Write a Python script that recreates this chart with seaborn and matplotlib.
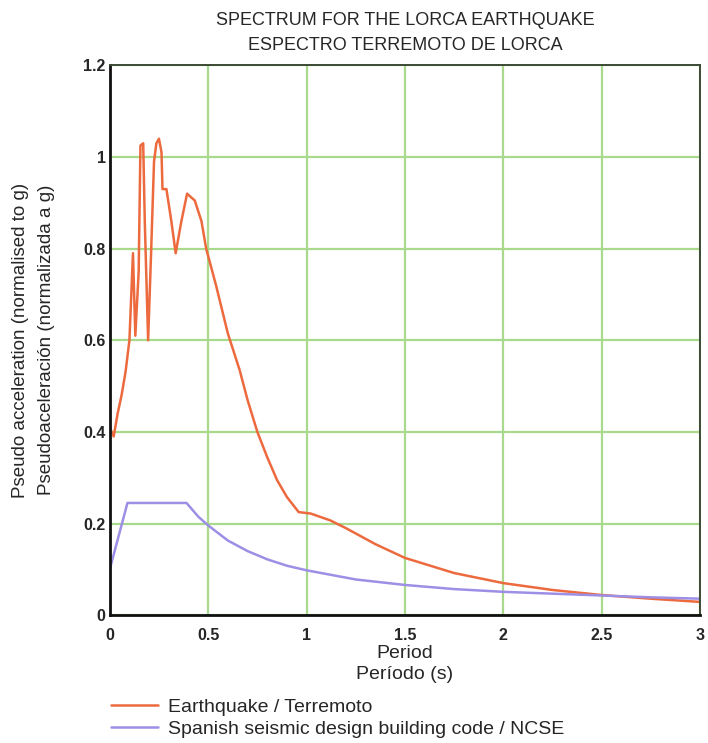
import matplotlib
matplotlib.use("Agg")
import matplotlib.pyplot as plt
import numpy as np
import pandas as pd
import seaborn as sns

# Datos (periodo en s, pseudoaceleracion en g)
quake_period = [0.0, 0.02, 0.04, 0.06, 0.08, 0.10, 0.118, 0.13, 0.147, 0.156,
                0.17, 0.178, 0.195, 0.21, 0.225, 0.237, 0.25, 0.263, 0.268,
                0.288, 0.313, 0.335, 0.364, 0.393, 0.432, 0.466, 0.49, 0.54,
                0.60, 0.66, 0.70, 0.75, 0.80, 0.85, 0.90, 0.96, 1.02, 1.12,
                1.2, 1.35, 1.5, 1.75, 2.0, 2.25, 2.5, 2.75, 3.0]
quake_accel = [0.41, 0.39, 0.44, 0.48, 0.53, 0.60, 0.79, 0.61, 0.75, 1.025,
               1.03, 0.86, 0.60, 0.79, 0.99, 1.03, 1.04, 1.01, 0.93,
               0.93, 0.86, 0.79, 0.86, 0.92, 0.905, 0.86, 0.80, 0.72,
               0.615, 0.535, 0.47, 0.40, 0.345, 0.295, 0.258, 0.225, 0.222, 0.207,
               0.19, 0.155, 0.125, 0.092, 0.07, 0.055, 0.044, 0.036, 0.029]

ncse_period = [0.0, 0.09, 0.39, 0.45, 0.5, 0.6, 0.7, 0.8, 0.9, 1.0, 1.25,
               1.5, 1.75, 2.0, 2.25, 2.5, 2.75, 3.0]
ncse_accel = [0.10, 0.245, 0.245, 0.215, 0.196, 0.163, 0.14, 0.122, 0.108,
              0.098, 0.078, 0.066, 0.057, 0.051, 0.047, 0.043, 0.039, 0.036]

x_ticks = [0, 0.5, 1, 1.5, 2, 2.5, 3]
x_tick_labels = ["0", "0.5", "1", "1.5", "2", "2.5", "3"]
y_ticks = [0, 0.2, 0.4, 0.6, 0.8, 1.0, 1.2]
y_tick_labels = ["0", "0.2", "0.4", "0.6", "0.8", "1", "1.2"]

quake = pd.DataFrame({"period": quake_period, "accel": quake_accel})
ncse = pd.DataFrame({"period": ncse_period, "accel": ncse_accel})

sns.set_style("white")
plt.rcParams["font.family"] = ["Liberation Sans", "DejaVu Sans"]

fig = plt.figure(figsize=(7.08, 7.43), dpi=100)
ax = fig.add_axes([0.155, 0.172, 0.834, 0.740])

sns.lineplot(data=quake, x="period", y="accel", ax=ax, color="#ec6a3e",
             linewidth=1.8, estimator=None, sort=False,
             label="Earthquake / Terremoto")
sns.lineplot(data=ncse, x="period", y="accel", ax=ax, color="#9d8fe6",
             linewidth=1.8, estimator=None, sort=False,
             label="Spanish seismic design building code / NCSE")

ax.set_xlim(0, 3)
ax.set_ylim(0, 1.2)
ax.set_xticks(x_ticks)
ax.set_xticklabels(x_tick_labels, fontsize=11.5, fontweight="bold")
ax.set_yticks(y_ticks)
ax.set_yticklabels(y_tick_labels, fontsize=11.5, fontweight="bold")
ax.tick_params(axis="y", length=0, pad=3)
ax.tick_params(axis="x", length=0, pad=9)
ax.grid(True, color="#a9d98a", linewidth=1.6)
ax.set_axisbelow(True)

for side in ["left", "bottom"]:
    ax.spines[side].set_color("#111111")
    ax.spines[side].set_linewidth(2.0)
for side in ["top", "right"]:
    ax.spines[side].set_color("#3d4a35")
    ax.spines[side].set_linewidth(1.4)

ax.set_xlabel("Period\nPeríodo (s)", fontsize=14, labelpad=2, linespacing=1.25)
ax.set_ylabel("Pseudo acceleration (normalised to g)\nPseudoaceleración (normalizada a g)",
              fontsize=13.5, labelpad=20, linespacing=1.7)
ax.set_title("SPECTRUM FOR THE LORCA EARTHQUAKE\nESPECTRO TERREMOTO DE LORCA",
             fontsize=13, pad=11, linespacing=1.65)

ax.legend(loc="upper left", bbox_to_anchor=(0.157, 0.060),
          bbox_transform=fig.transFigure, frameon=False, fontsize=14,
          handlelength=2.4, handletextpad=0.5, labelspacing=0.2,
          borderaxespad=0, borderpad=0)

fig.savefig("out.png", dpi=100)
